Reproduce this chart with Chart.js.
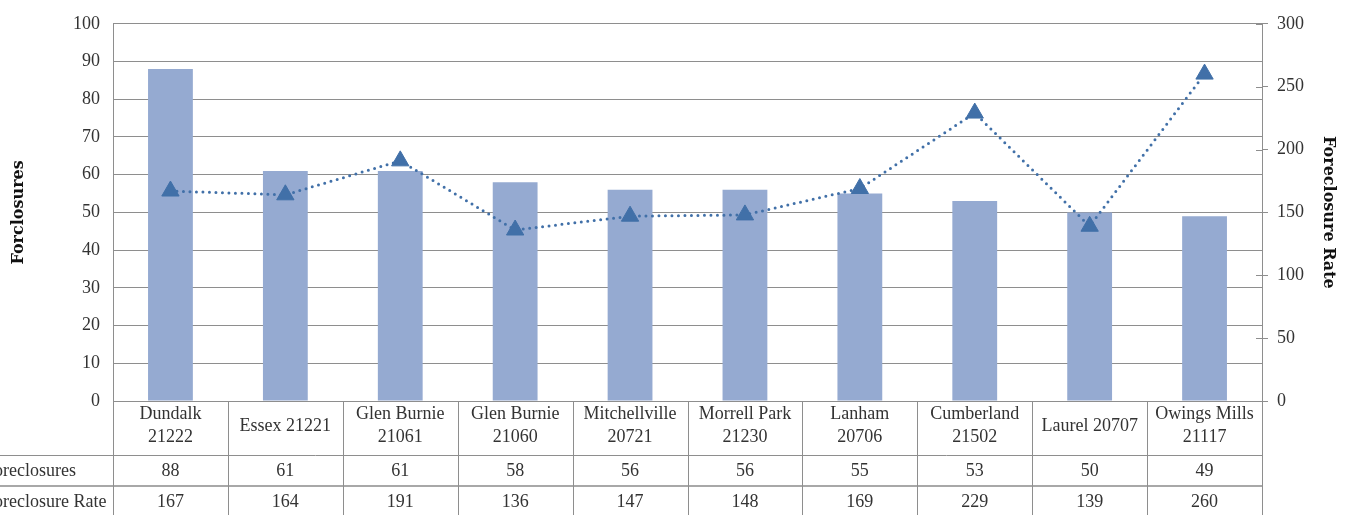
<!DOCTYPE html>
<html>
<head>
<meta charset="utf-8">
<script src="https://cdn.jsdelivr.net/npm/chart.js@4.4.1/dist/chart.umd.min.js"></script>
<style>
  html, body { margin: 0; padding: 0; background: #fff; }
  #wrap { width: 1347px; height: 515px; }
</style>
</head>
<body>
<div id="wrap"><canvas id="chart" width="1347" height="515"></canvas></div>
<script>
'use strict';

// ─── Data ─────────────────────────────────────────────────────────────────────
const categories = [
  ['Dundalk', '21222'],
  ['Essex 21221'],
  ['Glen Burnie', '21061'],
  ['Glen Burnie', '21060'],
  ['Mitchellville', '20721'],
  ['Morrell Park', '21230'],
  ['Lanham', '20706'],
  ['Cumberland', '21502'],
  ['Laurel 20707'],
  ['Owings Mills', '21117'],
];
const foreclosures    = [88, 61, 61, 58, 56, 56, 55, 53, 50, 49];
const foreclosureRate = [167, 164, 191, 136, 147, 148, 169, 229, 139, 260];
const leftTicks  = [0, 10, 20, 30, 40, 50, 60, 70, 80, 90, 100];
const rightTicks = [0, 50, 100, 150, 200, 250, 300];

// ─── Style ────────────────────────────────────────────────────────────────────
const BAR_COLOR  = '#95aad1';
const LINE_COLOR = '#4170a8';
const GRID_COLOR = '#8e8e8e';
const TEXT_COLOR = '#333333';
const SERIF      = '"Liberation Serif", "Times New Roman", serif';
const TITLE_FONT = '"DejaVu Serif", serif';

// ─── Data table drawn under the plot ──────────────────────────────────────────
const dataTablePlugin = {
  id: 'dataTable',
  afterDraw(chart) {
    const { ctx, chartArea, scales } = chart;
    const x      = scales.x;
    const top    = chartArea.bottom;
    const bottom = chart.height;
    const row1   = top + 54;   // foreclosures row top
    const row2   = top + 85;   // rate row top
    const colW   = (chartArea.right - chartArea.left) / categories.length;

    ctx.save();
    ctx.strokeStyle = GRID_COLOR;
    ctx.lineWidth = 1;

    // horizontal rules
    ctx.beginPath();
    ctx.moveTo(0, row1 + 0.5);
    ctx.lineTo(chartArea.right, row1 + 0.5);
    ctx.stroke();
    ctx.strokeStyle = '#a8a8a8';
    ctx.lineWidth = 2;
    ctx.beginPath();
    ctx.moveTo(0, row2);
    ctx.lineTo(chartArea.right, row2);
    ctx.stroke();

    // vertical rules
    ctx.strokeStyle = GRID_COLOR;
    ctx.lineWidth = 1;
    for (let i = 0; i <= categories.length; i++) {
      const px = Math.round(chartArea.left + i * colW) + 0.5;
      ctx.beginPath();
      ctx.moveTo(px, top);
      ctx.lineTo(px, bottom);
      ctx.stroke();
    }

    // right axis tick marks poking into the plot
    const y1 = scales.y1;
    ctx.beginPath();
    rightTicks.forEach((v) => {
      const py = Math.round(y1.getPixelForValue(v)) + 0.5;
      ctx.moveTo(chartArea.right - 6, py);
      ctx.lineTo(chartArea.right, py);
    });
    ctx.stroke();

    // texts
    ctx.fillStyle = TEXT_COLOR;
    ctx.font = '18px ' + SERIF;
    ctx.textAlign = 'center';
    ctx.textBaseline = 'middle';
    categories.forEach((lines, i) => {
      const cx = x.getPixelForValue(i);
      const mid = top + 25;
      lines.forEach((ln, j) => {
        const ly = mid + (j - (lines.length - 1) / 2) * 23;
        ctx.fillText(ln, cx, ly);
      });
      ctx.fillText(String(foreclosures[i]), cx, row1 + 16);
      ctx.fillText(String(foreclosureRate[i]), cx, row2 + 16);
    });

    // row headers (left part runs off the canvas, as in the source)
    ctx.textAlign = 'left';
    const startX = 3 - ctx.measureText('Fo').width;
    ctx.fillText('Foreclosures', startX, row1 + 16);
    ctx.fillText('Foreclosure Rate', startX, row2 + 16);
    ctx.restore();
  },
};

// ─── Chart ────────────────────────────────────────────────────────────────────
new Chart(document.getElementById('chart').getContext('2d'), {
  data: {
    labels: categories.map((c) => c.join(' ')),
    datasets: [
      {
        type:            'line',
        label:           'Foreclosure Rate',
        data:            foreclosureRate,
        yAxisID:         'y1',
        order:           0,
        borderColor:     LINE_COLOR,
        borderWidth:     3,
        borderDash:      [0, 6.5],
        borderCapStyle:  'round',
        pointStyle:      'triangle',
        pointRadius:     10,
        pointBackgroundColor: LINE_COLOR,
        pointBorderColor:     LINE_COLOR,
        pointBorderWidth:     1,
        tension:         0,
        fill:            false,
      },
      {
        type:            'bar',
        label:           'Foreclosures',
        data:            foreclosures,
        yAxisID:         'y',
        order:           1,
        backgroundColor: BAR_COLOR,
        borderWidth:     0,
        barPercentage:   0.39,
        categoryPercentage: 1,
      },
    ],
  },
  options: {
    responsive: false,
    animation:  false,
    layout: { padding: { top: 19, bottom: 0, left: 0, right: 0 } },
    plugins: {
      legend:  { display: false },
      tooltip: { enabled: false },
    },
    scales: {
      x: {
        offset: true,
        grid:   { display: false },
        border: { display: false },
        ticks:  { display: false },
        afterFit: (s) => { s.height = 114; },
      },
      y: {
        position: 'left',
        min: 0,
        max: 100,
        afterBuildTicks: (s) => { s.ticks = leftTicks.map((v) => ({ value: v })); },
        grid:   { color: GRID_COLOR, drawTicks: false, lineWidth: 1 },
        border: { display: true, color: GRID_COLOR },
        ticks:  { color: TEXT_COLOR, font: { family: SERIF, size: 18 }, padding: 13 },
        title:  {
          display: true,
          text:    'Forclosures',
          color:   '#111',
          font:    { family: TITLE_FONT, size: 16, weight: 'bold' },
          padding: { top: 9, bottom: 0 },
        },
        afterFit: (s) => { s.width = 113; },
      },
      y1: {
        position: 'right',
        min: 0,
        max: 300,
        afterBuildTicks: (s) => { s.ticks = rightTicks.map((v) => ({ value: v })); },
        grid:   { drawOnChartArea: false, color: GRID_COLOR, tickLength: 6 },
        border: { display: true, color: GRID_COLOR },
        ticks:  { color: TEXT_COLOR, font: { family: SERIF, size: 18 }, padding: 9 },
        title:  {
          display: true,
          text:    'Foreclosure Rate',
          color:   '#111',
          font:    { family: TITLE_FONT, size: 16, weight: 'bold' },
          padding: { top: 9, bottom: 0 },
        },
        afterFit: (s) => { s.width = 85; },
      },
    },
  },
  plugins: [dataTablePlugin],
});
</script>
</body>
</html>
